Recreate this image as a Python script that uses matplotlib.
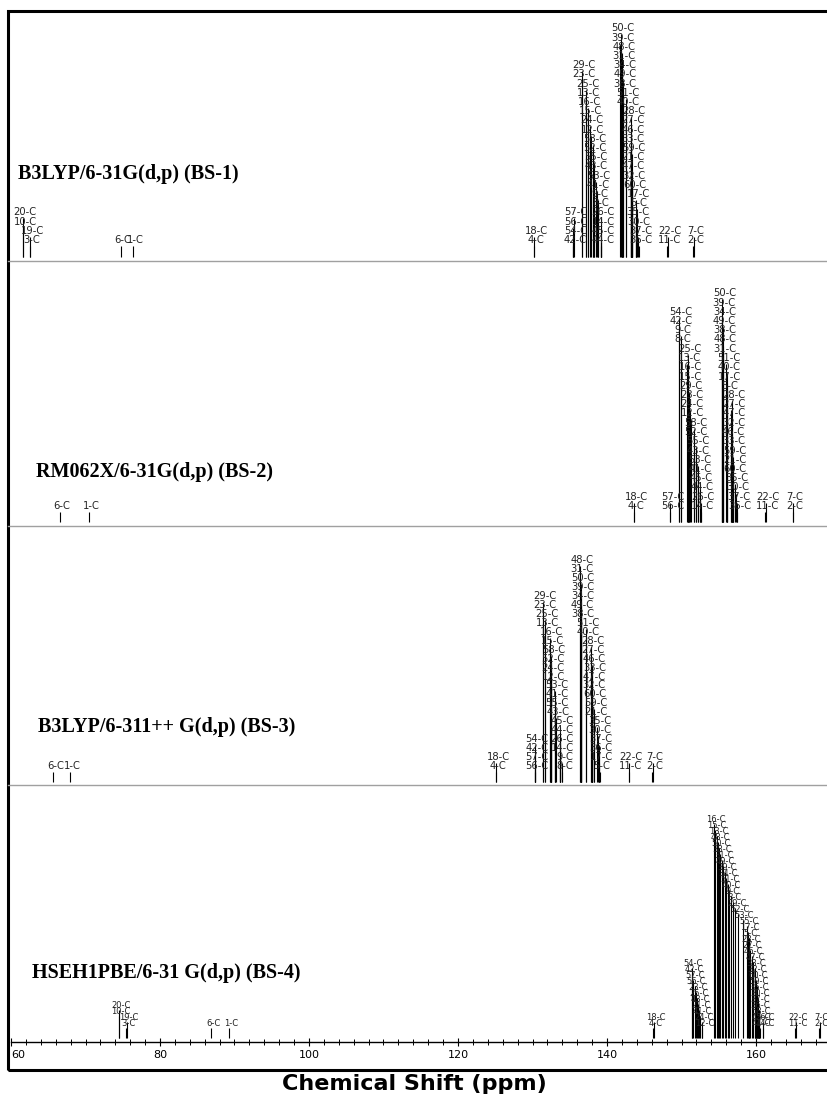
import matplotlib.pyplot as plt
from matplotlib.lines import Line2D
from matplotlib.patches import Rectangle
from matplotlib.transforms import offset_copy

# carbon labels per stack (bottom -> top) and their chemical shifts (ppm)
bs1_labels = [[3, 19, 10, 20], [6], [1], [4, 18], [42, 54, 56, 57],
              [44, 45, 14, 26, 8, 9, 41, 53, 43, 55, 52, 58, 12, 24, 15, 16, 13, 25, 23, 29],
              [36, 37, 30, 35, 5, 17, 60, 32, 47, 21, 59, 33, 46, 27, 28, 40, 51, 38, 49, 34, 31, 48, 39, 50],
              [11, 22], [2, 7]]
bs1_ppm = [[62.55, 62.6, 61.65, 61.6], [74.7], [76.4], [130.2, 130.25], [135.45, 135.5, 135.5, 135.55],
           [139.24, 139.22, 139.2, 139.18, 138.83, 138.82, 138.6, 138.56, 138.2, 138.26,
            138.12, 138.1, 137.8, 137.76, 137.46, 137.44, 137.2, 137.22, 136.64, 136.62],
           [144.25, 144.22, 143.95, 143.92, 144.0, 143.9, 143.4, 143.35, 143.3, 143.25, 143.3, 143.2,
            143.25, 143.22, 143.28, 142.6, 142.58, 142.1, 142.12, 142.08, 142.05, 142.0, 141.8, 141.82],
           [148.1, 148.15], [151.6, 151.65]]

bs2_labels = [[6], [1], [4, 18], [56, 57],
              [14, 26, 44, 45, 41, 53, 43, 55, 52, 58, 12, 24, 23, 29, 15, 16, 13, 25, 8, 9, 42, 54],
              [36, 37, 30, 35, 60, 21, 59, 33, 46, 32, 47, 27, 28, 5, 17, 40, 51, 31, 48, 38, 49, 34, 39, 50],
              [11, 22], [2, 7]]
bs2_ppm = [[66.6], [70.5], [143.6, 143.65], [148.5, 148.52],
           [152.6, 152.58, 152.44, 152.42, 152.17, 152.15, 151.95, 151.93, 151.64, 151.62, 151.23,
            151.1, 151.05, 151.03, 150.91, 150.89, 150.74, 150.83, 149.93, 149.91, 149.7, 149.68],
           [157.5, 157.48, 157.25, 157.2, 156.95, 156.9, 156.88, 156.76, 156.72, 156.7, 156.74, 156.7,
            156.72, 156.13, 156.12, 156.05, 156.03, 155.6, 155.52, 155.5, 155.52, 155.5, 155.48, 155.5],
           [161.25, 161.3], [164.9, 164.95]]

bs3_labels = [[6], [1], [4, 18], [56, 57, 42, 54],
              [8, 9, 14, 26, 44, 45, 43, 55, 41, 53, 12, 24, 52, 58, 15, 16, 13, 25, 23, 29],
              [5, 17, 36, 37, 30, 35, 21, 59, 60, 32, 47, 33, 46, 27, 28, 40, 51, 38, 49, 34, 39, 50, 31, 48],
              [11, 22], [2, 7]]
bs3_ppm = [[65.7], [67.96], [125.1, 125.15], [130.3, 130.32, 130.33, 130.35],
           [134.0, 134.02, 133.7, 133.72, 133.68, 133.66, 133.15, 133.02, 133.0, 133.02,
            132.52, 132.5, 132.5, 132.52, 132.35, 132.33, 131.68, 131.66, 131.37, 131.35],
           [139.0, 138.95, 138.93, 138.9, 138.75, 138.72, 138.26, 138.24, 138.03, 138.0, 138.02, 138.03,
            138.0, 137.89, 137.87, 137.18, 137.16, 136.47, 136.45, 136.47, 136.45, 136.46, 136.38, 136.36],
           [142.9, 142.95], [146.1, 146.15]]

bs4_labels = [[3, 19, 10, 20], [6], [1], [4, 18],
              [12, 24, 41, 21, 43, 25, 23, 56, 57, 42, 54],
              [44, 45, 58, 36, 37, 30, 35, 59, 60, 32, 33, 47, 46, 27, 28, 5, 17, 55,
               53, 52, 29, 8, 9, 40, 51, 34, 39, 49, 31, 38, 50, 48, 13, 15, 16],
              [14, 26], [11, 22], [2, 7]]
bs4_ppm = [[75.5, 75.55, 74.5, 74.5], [86.9], [89.3], [146.2, 146.25],
           [152.8, 152.7, 152.55, 152.4, 152.2, 152.05, 151.9, 151.75, 151.6, 151.4, 151.35],
           [160.5, 160.45, 160.4, 160.35, 160.3, 160.25, 160.2, 160.1, 160.0, 159.9, 159.8, 159.6,
            159.4, 159.25, 159.1, 159.0, 158.9, 158.8, 158.2, 157.6, 157.2, 156.85, 156.6, 156.4,
            156.2, 156.0, 155.8, 155.6, 155.4, 155.2, 155.0, 154.9, 154.7, 154.5, 154.4],
           [160.9, 161.0], [165.3, 165.35], [168.5, 168.55]]

titles = ['B3LYP/6-31G(d,p) (BS-1)', 'RM062X/6-31G(d,p) (BS-2)',
          'B3LYP/6-311++ G(d,p) (BS-3)', 'HSEH1PBE/6-31 G(d,p) (BS-4)']
tick_values = [60, 80, 100, 120, 140, 160]

W, H = 828, 1099
fig = plt.figure(figsize=(W / 100, H / 100), dpi=100)

def fx(x):
    return x / W

def fy(y):
    return 1 - y / H

x0 = 11          # pixel of 60 ppm
px_per_ppm = 7.45
ppm_max = 60 + (W - x0) / px_per_ppm

# layout of the four panels (pixels)
panels = [
    dict(labels=bs1_labels, ppm=bs1_ppm, top=11, bottom=261, base=256.7, row0=240, step=9.2,
         fs=7.2, gap=6, tx=18, ty=174),
    dict(labels=bs2_labels, ppm=bs2_ppm, top=261, bottom=526, base=521.7, row0=506, step=9.25,
         fs=7.2, gap=6, tx=36, ty=472),
    dict(labels=bs3_labels, ppm=bs3_ppm, top=526, bottom=785, base=781.7, row0=766, step=8.95,
         fs=7.2, gap=6, tx=38, ty=727),
    dict(labels=bs4_labels, ppm=bs4_ppm, top=785, bottom=1041.7, base=1037.7, row0=1024, step=6.0,
         fs=6.0, gap=4, tx=32, ty=973),
]

for i, p in enumerate(panels):
    h = p['bottom'] - p['top']
    ax = fig.add_axes([fx(x0), fy(p['bottom']), 1 - fx(x0), h / H])
    ax.set_xlim(60, ppm_max)
    ax.set_ylim(0, h)
    trans = offset_copy(ax.transData, fig=fig, x=2.0, y=0, units='dots')
    y_base = p['bottom'] - p['base']
    for labs, shifts in zip(p['labels'], p['ppm']):
        for r, (lab, s) in enumerate(zip(labs, shifts)):
            y_lab = p['bottom'] - p['row0'] + r * p['step']
            ax.vlines(s, y_base, y_lab - p['gap'], color='black', lw=0.8)
            ax.text(s, y_lab, '%d-C' % lab, transform=trans, ha='center', va='center',
                    fontsize=p['fs'], color='#222222')
    for side in ['top', 'left', 'right']:
        ax.spines[side].set_visible(False)
    ax.set_yticks([])
    if i < 3:
        ax.spines['bottom'].set_visible(False)
        ax.set_xticks([])
    else:
        ax.spines['bottom'].set_linewidth(1.0)
        ax.set_xticks(tick_values)
        ax.set_xticks(range(60, 170, 2), minor=True)
        ax.tick_params(axis='x', which='major', direction='inout', length=6, width=0.8,
                       labelsize=8, pad=3)
        ax.tick_params(axis='x', which='minor', direction='inout', length=4, width=0.7)
        ax.get_xticklabels()[0].set_ha('left')
    fig.text(fx(p['tx']), fy(p['ty']), titles[i], fontfamily='Liberation Serif',
             fontweight='bold', fontsize=14.5, ha='left', va='center')
    if i < 3:
        fig.add_artist(Line2D([fx(8), 1], [fy(p['bottom'])] * 2, color='#a0a0a0', lw=1.0))

# outer frame (right side runs off the image)
fig.add_artist(Rectangle((fx(8), fy(1070)), fx(840), (1070 - 11) / H, transform=fig.transFigure,
                         fill=False, ec='black', lw=2.2, clip_on=False))

fig.text(fx(414), fy(1084), 'Chemical Shift (ppm)', fontweight='bold', fontsize=16,
         ha='center', va='center')

fig.savefig('out.png', dpi=100)
